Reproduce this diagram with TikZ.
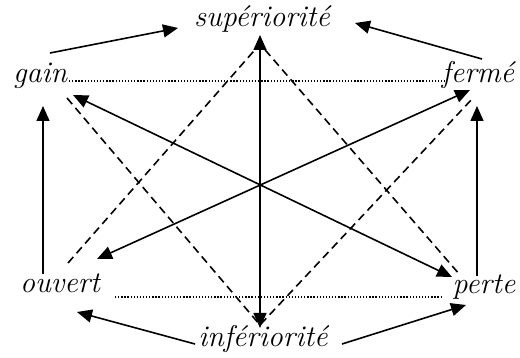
\documentclass[tikz,border=0pt]{standalone}
\usetikzlibrary{arrows.meta}

\begin{document}
\begin{tikzpicture}[x=1pt, y=-1pt,
    word/.style={inner sep=0pt, anchor=base, font=\fontsize{30}{36}\selectfont\itshape},
    arr/.style={line width=1.6pt, -{Triangle[length=15pt, width=13pt]}},
    darr/.style={line width=1.6pt, {Triangle[length=15pt, width=13pt]}-{Triangle[length=15pt, width=13pt]}},
    dash line/.style={line width=1.6pt, dash pattern=on 8pt off 5pt},
    dot line/.style={line width=1.3pt, dash pattern=on 1.3pt off 1.8pt}]
    \useasboundingbox (0,0) rectangle (520,358);
    \node[word] (sup) at (262,27) {supériorité};
    \node[word] (inf) at (263,347) {infériorité};
    \node[word] (gain) at (40,83) {gain};
    \node[word] (ferme) at (478,83) {fermé};
    \node[word] (ouvert) at (60,293) {ouvert};
    \node[word] (perte) at (484,294) {perte};
    \coordinate (G1) at (50,53);   \coordinate (S1) at (178,28);
    \coordinate (F1) at (482,59);  \coordinate (S2) at (355,23);
    \coordinate (I1) at (195,344); \coordinate (O1) at (77,312);
    \coordinate (I2) at (342,344); \coordinate (P1) at (466,305);
    \coordinate (O2) at (43,274);  \coordinate (G2) at (43,106);
    \coordinate (P2) at (477,276); \coordinate (F2) at (477,106);
    \coordinate (ST) at (260,35);  \coordinate (IB) at (260,328);
    \coordinate (OT) at (97,259);  \coordinate (FT) at (470,90);
    \coordinate (GT) at (73,95);   \coordinate (PT) at (452,277);
    \coordinate (GD) at (67,98);   \coordinate (FD) at (473,98);
    \coordinate (OD) at (68,263);  \coordinate (PD) at (460,275);
    \coordinate (SD) at (260,44);  \coordinate (ID) at (260,325);
    \draw[dot line] (69,81) -- (446,81);
    \draw[dot line] (115,297) -- (442,297);
    \draw[arr] (G1) -- (S1);
    \draw[arr] (F1) -- (S2);
    \draw[arr] (I1) -- (O1);
    \draw[arr] (I2) -- (P1);
    \draw[arr] (O2) -- (G2);
    \draw[arr] (P2) -- (F2);
    \draw[darr] (ST) -- (IB);
    \draw[darr] (OT) -- (FT);
    \draw[darr] (GT) -- (PT);
    \draw[dash line] (GD) -- (ID) -- (FD);
    \draw[dash line] (OD) -- (SD) -- (PD);
\end{tikzpicture}
\end{document}
